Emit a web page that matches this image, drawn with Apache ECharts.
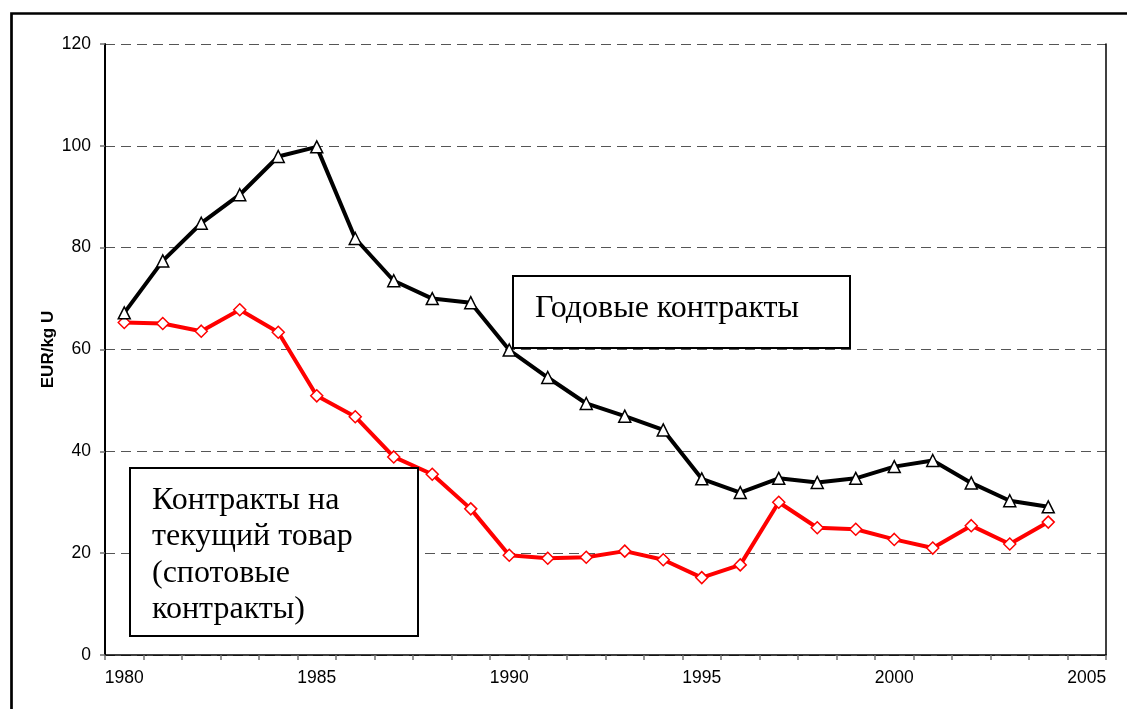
<!DOCTYPE html>
<html>
<head>
<meta charset="utf-8">
<script src="https://cdn.jsdelivr.net/npm/echarts@6/dist/echarts.min.js"></script>
<style>
  html, body { margin: 0; padding: 0; background: #fff; }
  #chart { width: 1127px; height: 709px; }
</style>
</head>
<body>
<div id="chart"></div>
<script>
// Categories (years); 2005 is an empty slot on the axis
const years = ['1980','1981','1982','1983','1984','1985','1986','1987','1988','1989',
               '1990','1991','1992','1993','1994','1995','1996','1997','1998','1999',
               '2000','2001','2002','2003','2004','2005'];

// Annual contracts (Годовые контракты), EUR/kg U
const annualContracts = [67.2, 77.4, 84.8, 90.4, 97.9, 99.8, 81.8, 73.5, 70.0, 69.2,
                         59.9, 54.5, 49.4, 46.9, 44.2, 34.6, 31.9, 34.7, 33.9, 34.7,
                         37.0, 38.2, 33.8, 30.3, 29.1];

// Spot contracts (Контракты на текущий товар), EUR/kg U
const spotContracts = [65.3, 65.1, 63.6, 67.8, 63.4, 50.9, 46.8, 38.9, 35.5, 28.7,
                       19.6, 19.0, 19.2, 20.4, 18.7, 15.2, 17.7, 30.0, 25.0, 24.7,
                       22.7, 21.0, 25.4, 21.8, 26.1];

const yTicks = { min: 0, max: 120, interval: 20 };
const yTitle = 'EUR/kg U';
const labelAnnual = 'Годовые контракты';
const labelSpot = 'Контракты на\nтекущий товар\n(спотовые\nконтракты)';

const chart = echarts.init(document.getElementById('chart'), null, { renderer: 'canvas' });

const sansFont = '"Liberation Sans", Arial, sans-serif';
const serifFont = '"Liberation Serif", "Times New Roman", serif';

chart.setOption({
  animation: false,
  backgroundColor: '#ffffff',
  grid: { left: 105, top: 44, right: 21, bottom: 54, containLabel: false },
  xAxis: {
    type: 'category',
    data: years,
    boundaryGap: true,
    axisLine: { show: true, onZero: false, lineStyle: { color: '#000', width: 1.5 } },
    axisTick: { show: true, interval: 0, alignWithLabel: false, length: 5, lineStyle: { color: '#707070', width: 1.5 } },
    axisLabel: { interval: 4, margin: 14, fontSize: 17.5, color: '#000', fontFamily: sansFont },
    splitLine: { show: false }
  },
  yAxis: [{
    type: 'value',
    min: yTicks.min, max: yTicks.max, interval: yTicks.interval,
    name: yTitle,
    nameLocation: 'middle',
    nameGap: 48,
    nameMoveOverlap: false,
    nameTextStyle: { fontSize: 17, fontWeight: 'bold', color: '#000', fontFamily: sansFont },
    axisLine: { show: true, lineStyle: { color: '#000', width: 2 } },
    axisTick: { show: true, length: 5, lineStyle: { color: '#707070', width: 1.5 } },
    axisLabel: { margin: 14, fontSize: 17.5, color: '#000', fontFamily: sansFont },
    splitLine: { show: true, lineStyle: { color: '#555555', width: 1.2, type: [10, 6] } }
  }, {
    type: 'value',
    position: 'right',
    min: yTicks.min, max: yTicks.max, interval: yTicks.interval,
    axisLine: { show: true, lineStyle: { color: '#000', width: 1.5 } },
    axisTick: { show: false },
    axisLabel: { show: false },
    splitLine: { show: false }
  }],
  series: [{
    name: 'spot',
    type: 'line',
    data: spotContracts,
    yAxisIndex: 0,
    symbol: 'diamond',
    symbolSize: 12,
    showAllSymbol: true,
    lineStyle: { color: '#ff0000', width: 4 },
    itemStyle: { color: '#ffffff', borderColor: '#ff0000', borderWidth: 1.5 },
    z: 3
  }, {
    name: 'annual',
    type: 'line',
    data: annualContracts,
    yAxisIndex: 0,
    symbol: 'triangle',
    symbolSize: 12,
    showAllSymbol: true,
    lineStyle: { color: '#000000', width: 4 },
    itemStyle: { color: '#ffffff', borderColor: '#000000', borderWidth: 1.5 },
    z: 4
  }],
  graphic: [
    {
      type: 'rect',
      shape: { x: 11.5, y: 13.5, width: 1200, height: 800 },
      style: { fill: 'none', stroke: '#000', lineWidth: 2.7 },
      silent: true, z: 100
    },
    {
      type: 'rect',
      shape: { x: 513, y: 276, width: 337, height: 72 },
      style: { fill: '#fff', stroke: '#000', lineWidth: 2 },
      z: 50
    },
    {
      type: 'text',
      x: 535, y: 309,
      style: { text: labelAnnual, font: '32px ' + serifFont, fill: '#000', verticalAlign: 'middle', align: 'left' },
      z: 51
    },
    {
      type: 'rect',
      shape: { x: 130, y: 468, width: 288, height: 168 },
      style: { fill: '#fff', stroke: '#000', lineWidth: 2 },
      z: 50
    },
    {
      type: 'text',
      x: 152, y: 555,
      style: { text: labelSpot, font: '32px ' + serifFont, lineHeight: 36.5, fill: '#000', verticalAlign: 'middle', align: 'left' },
      z: 51
    }
  ]
});
</script>
</body>
</html>
